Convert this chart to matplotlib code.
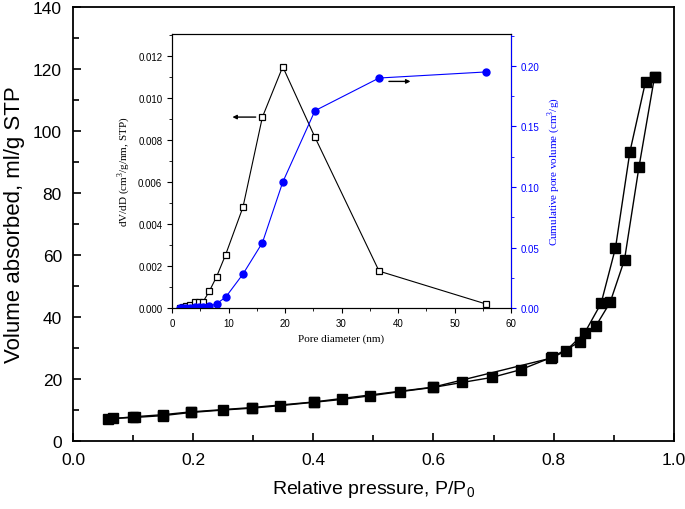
import numpy as np
import matplotlib
matplotlib.use("Agg")
import matplotlib.pyplot as plt
from matplotlib.ticker import MultipleLocator

plt.rcParams['font.family'] = ['Liberation Sans', 'DejaVu Sans']

# isotherm, adsorption branch
ads_p = [0.067, 0.103, 0.150, 0.196, 0.250, 0.298, 0.344, 0.401, 0.447, 0.495,
         0.544, 0.600, 0.648, 0.697, 0.745, 0.797, 0.844, 0.870, 0.894, 0.918,
         0.942, 0.968]
ads_v = [7.3, 7.6, 8.2, 9.2, 10.0, 10.6, 11.4, 12.5, 13.4, 14.6,
         15.9, 17.3, 18.9, 20.5, 23.0, 27.0, 32.0, 37.0, 44.7, 58.5,
         88.3, 117.5]
# desorption branch
des_p = [0.968, 0.953, 0.927, 0.903, 0.879, 0.852, 0.820, 0.795, 0.600,
         0.401, 0.298, 0.196, 0.150, 0.100, 0.059]
des_v = [117.5, 115.9, 93.3, 62.3, 44.4, 35.0, 29.0, 26.7, 17.4,
         12.6, 10.8, 9.4, 8.5, 7.8, 7.1]

# pore size distribution (inset)
pore_d = [1.5, 2.0, 2.5, 3.2, 4.0, 4.7, 5.5, 6.6, 7.9, 9.5, 12.55, 16.0,
          19.6, 25.3, 36.65, 55.5]
dvdd = [0.00002, 0.00004, 0.00008, 0.00015, 0.00028, 0.0003, 0.0003, 0.0008,
        0.0015, 0.00255, 0.0048, 0.0091, 0.0115, 0.00814, 0.00176, 0.0002]
cum_vol = [0.0, 0.0, 0.0, 0.0003, 0.0006, 0.0008, 0.001, 0.0015, 0.0036,
           0.009, 0.028, 0.054, 0.104, 0.163, 0.190, 0.195]

fig = plt.figure(figsize=(6.85, 5.10), dpi=100)
ax = fig.add_axes([0.1066, 0.1333, 0.877, 0.851])

ax.plot(ads_p, ads_v, 's-', color='black', ms=7, lw=1)
ax.plot(des_p, des_v, 's-', color='black', ms=7, lw=1)
ax.set_xlim(0.0, 1.0)
ax.set_ylim(0, 140)
ax.xaxis.set_major_locator(MultipleLocator(0.2))
ax.xaxis.set_minor_locator(MultipleLocator(0.1))
ax.yaxis.set_major_locator(MultipleLocator(20))
ax.yaxis.set_minor_locator(MultipleLocator(10))
ax.tick_params(which='both', direction='in', labelsize=12.5, width=1.2)
ax.tick_params(which='major', length=6, pad=8)
ax.tick_params(which='minor', length=4)
ax.set_xticklabels([f"{v:.1f}" for v in ax.get_xticks()])
for s in ax.spines.values():
    s.set_linewidth(1.3)
ax.set_xlabel(r"Relative pressure, P/P$_\mathregular{0}$", fontsize=14, labelpad=8)
ax.set_ylabel("Volume absorbed, ml/g STP", fontsize=16, labelpad=6)

# inset
serif = ['Liberation Serif', 'DejaVu Serif']
blue = '#0000ff'
ins = fig.add_axes([0.2511, 0.394, 0.4949, 0.537])
ins.plot(pore_d, dvdd, 's-', color='black', ms=5, mfc='white', mew=0.9, lw=0.8)
ins.set_xlim(0, 60)
ins.set_ylim(0, 0.01305)
ins.xaxis.set_major_locator(MultipleLocator(10))
ins.xaxis.set_minor_locator(MultipleLocator(5))
ins.yaxis.set_major_locator(MultipleLocator(0.002))
ins.yaxis.set_minor_locator(MultipleLocator(0.001))
ins.tick_params(which='both', direction='out', labelsize=7)
ins.tick_params(which='major', length=3.5)
ins.tick_params(which='minor', length=2)
ins.set_yticklabels([f"{v:.3f}" for v in ins.get_yticks()])
ins.set_xlabel("Pore diameter (nm)", fontsize=8, family=serif)
ins.set_ylabel(r"dV/dD (cm$^\mathregular{3}$/g/nm, STP)", fontsize=8, family=serif)
ins.annotate("", xy=(10.2, 0.0091), xytext=(15.3, 0.0091),
             arrowprops=dict(arrowstyle='-|>', color='black', lw=1, mutation_scale=6))
ins.annotate("", xy=(42.7, 0.0108), xytext=(37.9, 0.0108),
             arrowprops=dict(arrowstyle='-|>', color='black', lw=1, mutation_scale=6))

ins2 = ins.twinx()
ins2.plot(pore_d, cum_vol, 'o-', color=blue, ms=5, lw=0.8)
ins2.set_ylim(0, 0.2262)
ins2.yaxis.set_major_locator(MultipleLocator(0.05))
ins2.yaxis.set_minor_locator(MultipleLocator(0.025))
ins2.tick_params(which='both', direction='out', labelsize=7, colors=blue)
ins2.tick_params(which='major', length=3.5)
ins2.tick_params(which='minor', length=2)
ins2.set_yticklabels([f"{v:.2f}" for v in ins2.get_yticks()])
ins2.spines['right'].set_color(blue)
ins2.set_ylabel(r"Cumulative pore volume (cm$^\mathregular{3}$/g)", fontsize=8,
                family=serif, color=blue)

fig.savefig("out.png", dpi=100)
